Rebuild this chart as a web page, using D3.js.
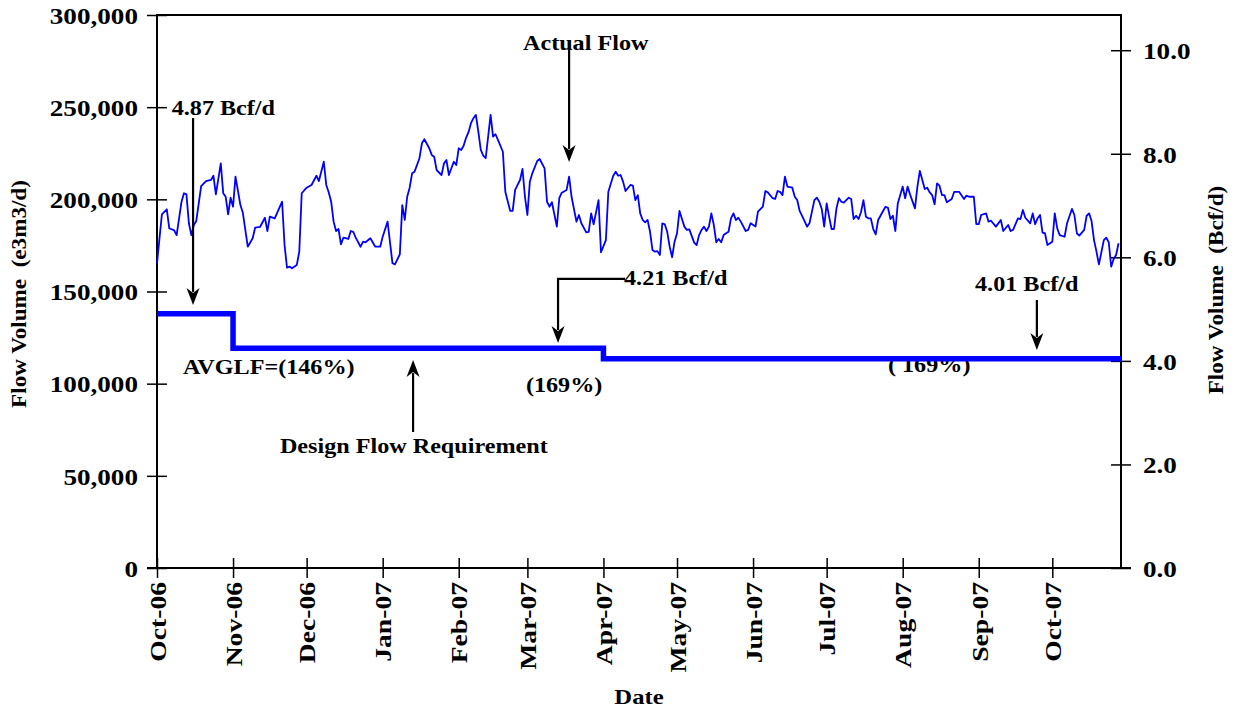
<!DOCTYPE html>
<html>
<head>
<meta charset="utf-8">
<script src="https://cdn.jsdelivr.net/npm/d3@7"></script>
<style>
	body { margin: 0; background: #fff; }
	text { font-family: "Times New Roman", "Liberation Serif", serif; font-weight: bold; fill: #000; }
</style>
</head>
<body>
<script>
var start_date = new Date(2006, 9, 1);
var end_date = new Date(2007, 9, 29);

// actual flow, days after 1 Oct 2006 and e3m3/d
var flow_day = [0, 2, 4, 5, 7, 8, 10, 11, 12, 13, 14, 15, 16, 18, 20, 22, 23, 24, 26, 27, 28, 29, 30, 31, 32, 34, 35, 37, 39, 40,
	42, 44, 45, 46, 48, 51, 52, 53, 54, 55, 57, 58, 59, 61, 63, 65, 66, 68, 69, 70, 71, 72, 73, 74, 75, 76, 78, 79, 80, 81,
	83, 84, 85, 87, 89, 91, 92, 94, 96, 97, 99, 100, 101, 102, 103, 104, 105, 107, 108, 109, 111, 112, 113, 114, 116, 117, 118, 119, 121, 122,
	123, 124, 125, 126, 127, 128, 129, 130, 131, 132, 133, 134, 136, 137, 138, 139, 141, 142, 144, 145, 146, 147, 148, 149, 150, 151, 152, 153, 155, 156,
	158, 159, 160, 161, 163, 164, 165, 167, 168, 169, 171, 172, 173, 175, 176, 177, 178, 180, 181, 183, 184, 186, 187, 188, 189, 190, 191, 193, 194, 195,
	196, 197, 198, 199, 200, 201, 202, 203, 204, 205, 206, 207, 208, 209, 210, 211, 212, 213, 215, 216, 217, 219, 220, 221, 222, 223, 224, 225, 226, 227,
	228, 229, 230, 231, 232, 233, 234, 235, 236, 237, 238, 240, 241, 242, 244, 245, 247, 248, 249, 251, 252, 253, 254, 255, 256, 257, 259, 260, 261, 262,
	264, 265, 266, 268, 269, 270, 271, 272, 273, 274, 275, 276, 277, 278, 279, 280, 282, 283, 284, 285, 286, 287, 288, 289, 290, 291, 292, 293, 294, 296,
	297, 298, 299, 300, 301, 302, 304, 305, 306, 307, 309, 310, 311, 312, 313, 314, 315, 316, 317, 318, 319, 320, 321, 322, 324, 325, 327, 329, 330, 331,
	333, 334, 335, 336, 338, 339, 340, 342, 344, 345, 347, 348, 349, 351, 352, 353, 354, 356, 357, 358, 359, 360, 361, 362, 363, 365, 366, 367, 368, 370,
	371, 373, 374, 375, 376, 378, 379, 380, 381, 382, 383, 384, 386, 387, 388, 389, 390, 391, 392];
var flow_value = [165300, 191900, 194600, 184300, 183200, 180600, 198700, 203300, 202700, 187000, 180600, 186100, 188200, 207200, 209900, 210500, 212800, 202700, 219500, 203300, 201400, 191900, 200900, 196000, 212300, 196900, 192700, 174300, 178900, 184600,
	185000, 190000, 182800, 190600, 189700, 198700, 175200, 162900, 163500, 162600, 164400, 171600, 203300, 206300, 207800, 212800, 209900, 220400, 207800, 203800, 198700, 187900, 182800, 183900, 175600, 179200, 178500, 182800, 182400, 179200,
	174300, 177000, 176700, 178900, 174300, 174300, 179700, 187900, 165300, 164700, 170200, 196900, 188800, 201400, 206300, 214100, 215000, 222300, 230400, 232600, 227700, 224100, 223100, 215900, 213200, 219500, 221300, 213200, 220400, 218600,
	227700, 226800, 229100, 233400, 236400, 241300, 244000, 245800, 236700, 226800, 223700, 222300, 245800, 234000, 235300, 232200, 225800, 204100, 193700, 193700, 205100, 207800, 210500, 216500, 201400, 191500, 209600, 214100, 220800, 221900,
	216800, 198700, 196000, 198400, 185200, 200600, 203600, 205100, 212300, 201400, 187900, 191500, 187000, 182100, 182400, 192400, 186500, 199600, 171300, 177900, 204100, 212800, 215000, 212800, 213200, 209600, 204500, 207800, 207400, 199600,
	202300, 192400, 188800, 187500, 188800, 182400, 172500, 171600, 171900, 169800, 187000, 186500, 182400, 174300, 168600, 177000, 181600, 193700, 185200, 183400, 183700, 176500, 175200, 180600, 183400, 185200, 182800, 185200, 192400, 186100,
	176700, 178500, 176700, 180600, 181600, 182400, 189700, 192400, 188800, 190000, 187900, 182800, 183400, 187000, 185200, 193300, 196000, 204500, 203800, 200600, 200200, 204500, 204100, 202300, 212300, 206900, 206300, 201400, 199600, 193700,
	188200, 185200, 187000, 199600, 200900, 198700, 194800, 185200, 197800, 190600, 183900, 183900, 195100, 200600, 198700, 198200, 200900, 200200, 189300, 191100, 189300, 193000, 199600, 190600, 189700, 189700, 183900, 181000, 188800, 193700,
	196000, 195400, 189300, 191100, 182800, 197800, 206900, 200600, 206900, 202700, 195100, 206900, 215400, 210500, 205600, 206300, 203800, 202300, 197300, 208700, 207400, 202300, 202300, 198400, 200200, 204100, 204100, 200200, 202000, 201400,
	201400, 186500, 186500, 191500, 192400, 187900, 188400, 185200, 188800, 182800, 186100, 182800, 183400, 189700, 189300, 194200, 190000, 187000, 192400, 186500, 189700, 191500, 181900, 181600, 175200, 177000, 192400, 184300, 180600, 179700,
	187000, 194800, 191500, 181600, 180300, 183400, 191100, 192400, 188200, 177900, 171600, 164700, 177900, 179200, 176700, 163500, 167600, 169800, 176200];

// design flow requirement (4.87, 4.21, 4.01 Bcf/d)
var design_start = ["2006-10-01", "2006-11-01", "2007-04-01"];
var design_value = [137900, 119200, 113500];

var left_ticks = [0, 50000, 100000, 150000, 200000, 250000, 300000];
var right_ticks = [0, 2, 4, 6, 8, 10];
var month_labels = ["Oct-06", "Nov-06", "Dec-06", "Jan-07", "Feb-07", "Mar-07", "Apr-07", "May-07", "Jun-07", "Jul-07", "Aug-07", "Sep-07", "Oct-07"];

// notes: text, day, value (text baseline at left edge)
var note_text = ["Actual Flow", "4.87 Bcf/d", "4.21 Bcf/d", "4.01 Bcf/d", "AVGLF=(146%)", "(169%)", "( 169%)", "Design Flow Requirement"];
var note_day = [149.2, 6, 190.4, 333.5, 10.6, 150.4, 298, 50.1];
var note_value = [281000, 245800, 153500, 150300, 105200, 95500, 106500, 62400];

// arrows as [day, value] points, head at the last one
var arrows = [
	[[168, 281000], [168, 220300]],
	[[14.7, 244100], [14.7, 142700]],
	[[190.8, 156800], [163.5, 156800], [163.5, 122100]],
	[[358.7, 145400], [358.7, 118300]],
	[[104.4, 73800], [104.4, 112800]]
];

window.onload = function() {
	var w = 1236, h = 708;
	var left = 157, right = 1121, top = 15, bottom = 568;

	var svg = d3.select("body").append("svg")
		.attr("width", w)
		.attr("height", h);

	var x = d3.scaleTime().domain([start_date, end_date]).range([left, right]);
	var y = d3.scaleLinear().domain([0, 300000]).range([bottom, top]);
	var y_right = d3.scaleLinear().domain([0, 10.68]).range([bottom, top]);

	function day_x(d) {
		return x(d3.timeDay.offset(start_date, Math.floor(d))) + (d - Math.floor(d)) * (x(d3.timeDay.offset(start_date, 1)) - x(start_date));
	}

	/* frame */
	svg.append("rect")
		.attr("x", left).attr("y", top)
		.attr("width", right - left).attr("height", bottom - top)
		.attr("fill", "none").attr("stroke", "#000").attr("stroke-width", 2);

	/* left axis */
	var ax_l = svg.append("g").attr("transform", "translate(" + left + ",0)")
		.call(d3.axisLeft(y).tickValues(left_ticks).tickFormat(d3.format(",")).tickSize(10).tickPadding(9));
	ax_l.select(".domain").remove();
	ax_l.selectAll(".tick line").attr("x1", 10).attr("stroke-width", 1.5);
	ax_l.selectAll(".tick text").style("font-size", "23px").attr("dy", "0.36em").call(stretch, 1.18);

	/* right axis */
	var ax_r = svg.append("g").attr("transform", "translate(" + right + ",0)")
		.call(d3.axisRight(y_right).tickValues(right_ticks).tickFormat(d3.format(".1f")).tickSize(10).tickPadding(12));
	ax_r.select(".domain").remove();
	ax_r.selectAll(".tick line").attr("x1", -10).attr("stroke-width", 1.5);
	ax_r.selectAll(".tick text").style("font-size", "23px").attr("dy", "0.36em").call(stretch, 1.18);

	/* bottom axis */
	var months = d3.timeMonth.range(start_date, end_date);
	var ax_b = svg.append("g").attr("transform", "translate(0," + bottom + ")")
		.call(d3.axisBottom(x).tickValues(months).tickFormat(function(d, i) { return month_labels[i]; }).tickSize(10));
	ax_b.select(".domain").attr("d", "M" + (left - 10) + ",0H" + (right + 10)).attr("stroke-width", 2);
	ax_b.selectAll(".tick line").attr("y1", -10).attr("stroke-width", 1.5);
	ax_b.selectAll(".tick text")
		.attr("transform", "rotate(-90)")
		.attr("text-anchor", "end")
		.attr("x", -14).attr("y", 0).attr("dy", "0.36em")
		.style("font-size", "23px")
		.call(stretch, 1.2);

	/* axis titles */
	svg.append("text")
		.attr("transform", "translate(26," + 294 + ") rotate(-90)")
		.attr("text-anchor", "middle")
		.style("font-size", "21px").style("white-space", "pre")
		.text("Flow Volume  (e3m3/d)")
		.call(stretch, 1.1);
	svg.append("text")
		.attr("transform", "translate(1223," + 290 + ") rotate(-90)")
		.attr("text-anchor", "middle")
		.style("font-size", "21px").style("white-space", "pre")
		.text("Flow Volume  (Bcf/d)")
		.call(stretch, 1.1);
	svg.append("text")
		.attr("x", (left + right) / 2).attr("y", 704)
		.attr("text-anchor", "middle")
		.style("font-size", "22px")
		.text("Date")
		.call(stretch, 1.12);

	/* notes */
	note_text.forEach(function(t, i) {
		svg.append("text")
			.attr("x", day_x(note_day[i]))
			.attr("y", y(note_value[i]))
			.style("font-size", "21px").style("white-space", "pre")
			.text(t)
			.call(stretch, 1.15);
	});

	/* design flow */
	var design_points = design_start.map(function(s, i) {
		return [d3.timeParse("%Y-%m-%d")(s), design_value[i]];
	});
	design_points.push([end_date, design_value[design_value.length - 1]]);
	svg.append("path")
		.attr("d", d3.line().curve(d3.curveStepAfter)
			.x(function(d) { return x(d[0]); })
			.y(function(d) { return y(d[1]); })(design_points))
		.attr("fill", "none")
		.attr("stroke", "#0000ff")
		.attr("stroke-width", 5.5);

	/* actual flow */
	svg.append("path")
		.attr("d", d3.line()
			.x(function(d, i) { return day_x(d); })
			.y(function(d, i) { return y(flow_value[i]); })(flow_day))
		.attr("fill", "none")
		.attr("stroke", "#0000ff")
		.attr("stroke-width", 1.8)
		.attr("stroke-linejoin", "round");

	/* arrows */
	arrows.forEach(function(a) {
		draw_arrow(svg, a.map(function(p) { return [day_x(p[0]), y(p[1])]; }));
	});
};

// widen text along its baseline, the reference glyphs are broad
function stretch(sel, k) {
	sel.each(function() {
		var l = this.getComputedTextLength();
		d3.select(this)
			.attr("textLength", l * k)
			.attr("lengthAdjust", "spacingAndGlyphs");
	});
}

function draw_arrow(svg, pts) {
	var n = pts.length;
	var tip = pts[n - 1], prev = pts[n - 2];
	var dx = tip[0] - prev[0], dy = tip[1] - prev[1];
	var len = Math.sqrt(dx * dx + dy * dy);
	var ux = dx / len, uy = dy / len;
	var head = 17, half = 6.5;
	var bx = tip[0] - ux * head, by = tip[1] - uy * head;

	var line_pts = pts.slice(0, n - 1).concat([[bx + ux * 4, by + uy * 4]]);
	svg.append("path")
		.attr("d", d3.line()(line_pts))
		.attr("fill", "none")
		.attr("stroke", "#000")
		.attr("stroke-width", 2.2);
	svg.append("path")
		.attr("d", "M" + tip[0] + "," + tip[1] +
			"L" + (bx - uy * half) + "," + (by + ux * half) +
			"L" + (bx + ux * 5) + "," + (by + uy * 5) +
			"L" + (bx + uy * half) + "," + (by - ux * half) + "Z")
		.attr("fill", "#000");
}
</script>
</body>
</html>
